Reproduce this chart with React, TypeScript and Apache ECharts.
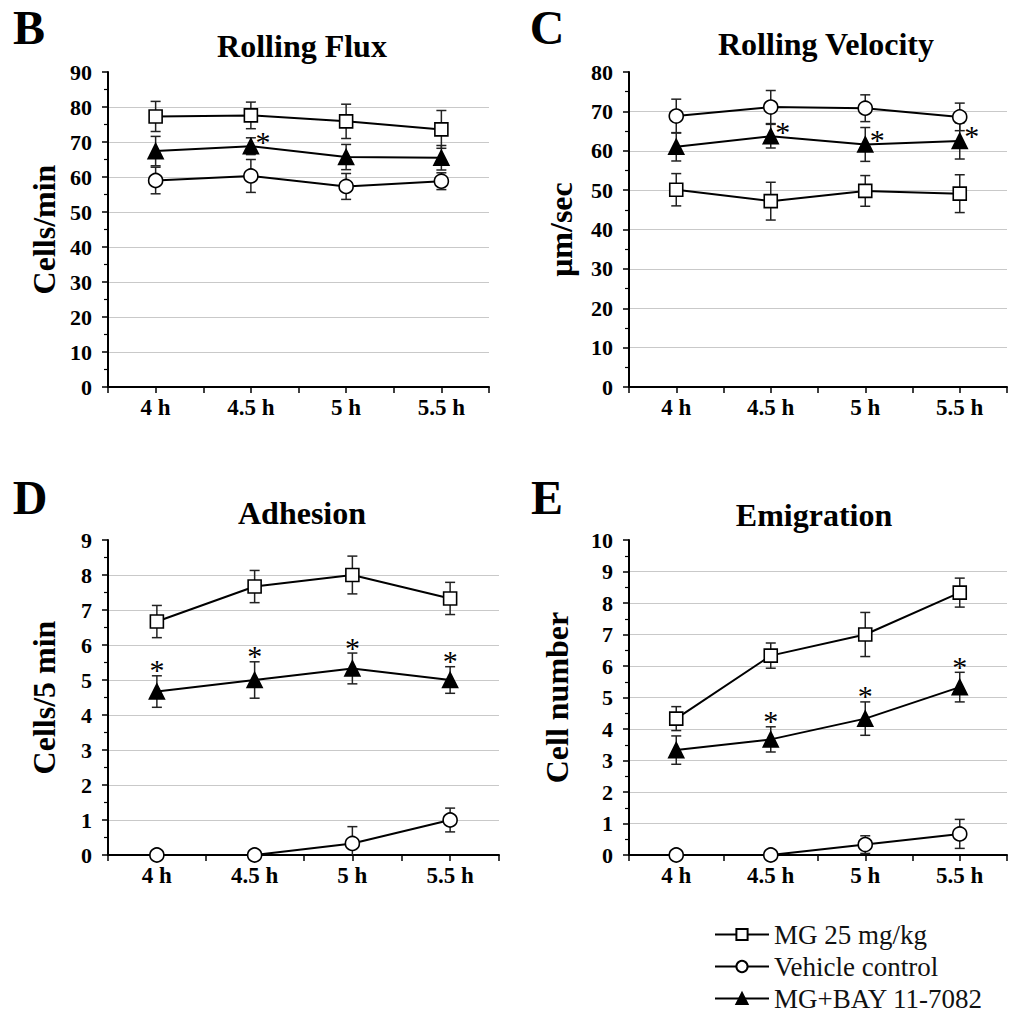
import React, { useEffect, useRef } from 'react';
import * as echarts from 'echarts';

const times = [4, 4.5, 5, 5.5];
const timeLabels = ['4 h', '4.5 h', '5 h', '5.5 h'];
const groupNames = ['MG 25 mg/kg', 'Vehicle control', 'MG+BAY 11-7082'];

// B: Rolling Flux (Cells/min)
const fluxMG = [77.3, 77.6, 75.9, 73.6];
const fluxMGErr = [4.3, 3.8, 4.9, 5.4];
const fluxVeh = [59.0, 60.3, 57.3, 58.8];
const fluxVehErr = [3.8, 4.7, 3.7, 2.4];
const fluxBay = [67.4, 68.8, 65.7, 65.5];
const fluxBayErr = [4.2, 2.4, 3.6, 3.5];
const fluxSig = [0, 1, 0, 0];

// C: Rolling Velocity (µm/sec)
const velMG = [50.1, 47.2, 49.8, 49.1];
const velMGErr = [4.1, 4.8, 3.9, 4.8];
const velVeh = [68.8, 71.1, 70.8, 68.6];
const velVehErr = [4.3, 4.2, 3.4, 3.5];
const velBay = [61.0, 63.7, 61.6, 62.5];
const velBayErr = [3.6, 3.0, 4.3, 4.6];
const velSig = [0, 1, 1, 1];

// D: Adhesion (Cells/5 min)
const adhMG = [6.67, 7.67, 8.0, 7.33];
const adhMGErr = [0.46, 0.46, 0.54, 0.46];
const adhVeh = [0, 0, 0.33, 1.0];
const adhVehErr = [0, 0, 0.48, 0.34];
const adhBay = [4.67, 5.0, 5.33, 5.0];
const adhBayErr = [0.45, 0.52, 0.44, 0.38];
const adhSig = [1, 1, 1, 1];

// E: Emigration (Cell number)
const emiMG = [4.33, 6.33, 7.0, 8.33];
const emiMGErr = [0.38, 0.4, 0.7, 0.46];
const emiVeh = [0, 0, 0.33, 0.67];
const emiVehErr = [0, 0, 0.28, 0.46];
const emiBay = [3.33, 3.67, 4.33, 5.33];
const emiBayErr = [0.45, 0.4, 0.53, 0.47];
const emiSig = [0, 1, 1, 1];

const FONT = '"Liberation Serif", "Times New Roman", serif';

const panels = [
  {
    letter: 'B', title: 'Rolling Flux', yName: 'Cells/min', yMax: 90, yStep: 10,
    grid: { left: 108, top: 72, width: 381, height: 315 }, nameGap: 48,
    mg: [fluxMG, fluxMGErr], veh: [fluxVeh, fluxVehErr], bay: [fluxBay, fluxBayErr], sig: fluxSig, starMode: 'side',
    letterPos: [29, 27], titlePos: [302, 46],
  },
  {
    letter: 'C', title: 'Rolling Velocity', yName: 'μm/sec', yMax: 80, yStep: 10,
    grid: { left: 629, top: 72, width: 388, height: 315 }, nameGap: 52,
    mg: [velMG, velMGErr], veh: [velVeh, velVehErr], bay: [velBay, velBayErr], sig: velSig, starMode: 'side',
    letterPos: [547, 27], titlePos: [826, 44],
  },
  {
    letter: 'D', title: 'Adhesion', yName: 'Cells/5 min', yMax: 9, yStep: 1,
    grid: { left: 108, top: 540, width: 391, height: 315 }, nameGap: 48,
    mg: [adhMG, adhMGErr], veh: [adhVeh, adhVehErr], bay: [adhBay, adhBayErr], sig: adhSig, starMode: 'above',
    letterPos: [30, 497], titlePos: [302, 513],
  },
  {
    letter: 'E', title: 'Emigration', yName: 'Cell number', yMax: 10, yStep: 1,
    grid: { left: 629, top: 540, width: 385, height: 315 }, nameGap: 56,
    mg: [emiMG, emiMGErr], veh: [emiVeh, emiVehErr], bay: [emiBay, emiBayErr], sig: emiSig, starMode: 'above',
    letterPos: [547, 497], titlePos: [814, 515],
  },
];

const symbolDefs = [
  { key: 'mg', name: groupNames[0], symbol: 'rect', size: 13, fill: '#ffffff' },
  { key: 'veh', name: groupNames[1], symbol: 'circle', size: 14, fill: '#ffffff' },
  { key: 'bay', name: groupNames[2], symbol: 'triangle', size: 15, fill: '#000000' },
];

function buildOption() {
  const grids: any[] = [];
  const xAxes: any[] = [];
  const yAxes: any[] = [];
  const series: any[] = [];
  const graphics: any[] = [];

  panels.forEach((p, i) => {
    grids.push({ ...p.grid, containLabel: false });
    xAxes.push({
      type: 'value', gridIndex: i, min: 3.75, max: 5.75, interval: 0.25,
      axisLine: { show: true, onZero: false, lineStyle: { color: '#000', width: 2 } },
      axisTick: { show: true, inside: false, length: 6, lineStyle: { color: '#000', width: 1.5 } },
      splitLine: { show: false },
      axisLabel: {
        show: true, margin: 9, color: '#000', fontFamily: FONT, fontWeight: 'bold', fontSize: 23,
        formatter: (v: number) => {
          const k = times.findIndex((t) => Math.abs(t - v) < 1e-6);
          return k >= 0 ? timeLabels[k] : '';
        },
      },
    });
    yAxes.push({
      type: 'value', gridIndex: i, min: 0, max: p.yMax, interval: p.yStep,
      name: p.yName, nameLocation: 'middle', nameGap: p.nameGap,
      nameTextStyle: { fontFamily: FONT, fontWeight: 'bold', fontSize: 32, color: '#000' },
      axisLine: { show: true, lineStyle: { color: '#000', width: 2 } },
      axisTick: { show: true, inside: false, length: 6, lineStyle: { color: '#000', width: 1.5 } },
      minorTick: { show: true, splitNumber: 2, length: 4, lineStyle: { color: '#000', width: 1.2 } },
      splitLine: { show: true, showMinLine: false, showMaxLine: false, lineStyle: { color: '#c9c9c9', width: 1 } },
      axisLabel: { margin: 16, color: '#000', fontFamily: FONT, fontWeight: 'bold', fontSize: 22 },
    });

    symbolDefs.forEach((s) => {
      const [vals, errs] = (p as any)[s.key];
      // error bars
      series.push({
        type: 'custom', xAxisIndex: i, yAxisIndex: i, z: 2, clip: true, silent: true,
        data: times.map((t, k) => [t, vals[k], errs[k]]),
        renderItem: (params: any, api: any) => {
          const x = api.value(0), y = api.value(1), e = api.value(2);
          if (!e) return { type: 'group', children: [] };
          const top = api.coord([x, y + e]);
          const bot = api.coord([x, y - e]);
          const hw = 5;
          const st = { stroke: '#222', lineWidth: 1.5 };
          return {
            type: 'group',
            children: [
              { type: 'line', shape: { x1: top[0], y1: top[1], x2: bot[0], y2: bot[1] }, style: st },
              { type: 'line', shape: { x1: top[0] - hw, y1: top[1], x2: top[0] + hw, y2: top[1] }, style: st },
              { type: 'line', shape: { x1: bot[0] - hw, y1: bot[1], x2: bot[0] + hw, y2: bot[1] }, style: st },
            ],
          };
        },
      });
      series.push({
        type: 'line', name: s.name, xAxisIndex: i, yAxisIndex: i, z: 3,
        data: times.map((t, k) => [t, vals[k]]),
        symbol: s.symbol, symbolSize: s.size, showSymbol: true,
        lineStyle: { color: '#000', width: 2 },
        itemStyle: { color: s.fill, borderColor: '#000', borderWidth: 1.6 },
        emphasis: { disabled: true },
      });
    });

    // significance asterisks on MG+BAY group
    const [bVals, bErrs] = p.bay;
    series.push({
      type: 'custom', xAxisIndex: i, yAxisIndex: i, z: 4, silent: true,
      data: times.map((t, k) => [t, bVals[k], bErrs[k], p.sig[k]]).filter((d) => d[3]),
      renderItem: (params: any, api: any) => {
        const x = api.value(0), y = api.value(1), e = api.value(2);
        let pt: number[];
        if (p.starMode === 'side') {
          const c = api.coord([x, y]);
          pt = [c[0] + 12, c[1] - 5];
        } else {
          const c = api.coord([x, y + e]);
          pt = [c[0], c[1] - 6];
        }
        return {
          type: 'text', x: pt[0], y: pt[1],
          style: { text: '*', fontFamily: FONT, fontSize: 30, fill: '#000', textAlign: 'center', textVerticalAlign: 'middle' },
        };
      },
    });

    graphics.push({
      type: 'text', x: p.letterPos[0], y: p.letterPos[1],
      style: { text: p.letter, fontFamily: FONT, fontWeight: 'bold', fontSize: 48, fill: '#000', textAlign: 'center', textVerticalAlign: 'middle' },
    });
    graphics.push({
      type: 'text', x: p.titlePos[0], y: p.titlePos[1],
      style: { text: p.title, fontFamily: FONT, fontWeight: 'bold', fontSize: 32, fill: '#000', textAlign: 'center', textVerticalAlign: 'middle' },
    });
  });

  return {
    animation: false,
    backgroundColor: '#ffffff',
    grid: grids,
    xAxis: xAxes,
    yAxis: yAxes,
    series,
    graphic: graphics,
    legend: {
      data: groupNames, orient: 'vertical', left: 714, top: 921, width: 296, height: 100,
      padding: 0, itemWidth: 54, itemHeight: 14, itemGap: 5,
      selectedMode: false,
      textStyle: { fontFamily: FONT, fontSize: 27, color: '#111' },
    },
  };
}

export default function App() {
  const ref = useRef<HTMLDivElement>(null);
  useEffect(() => {
    if (!ref.current) return;
    const chart = echarts.init(ref.current, undefined, { renderer: 'svg' });
    chart.setOption(buildOption() as any);
    return () => chart.dispose();
  }, []);
  return <div ref={ref} style={{ position: 'absolute', left: 0, top: 0, width: 1010, height: 1012, background: '#fff' }} />;
}
